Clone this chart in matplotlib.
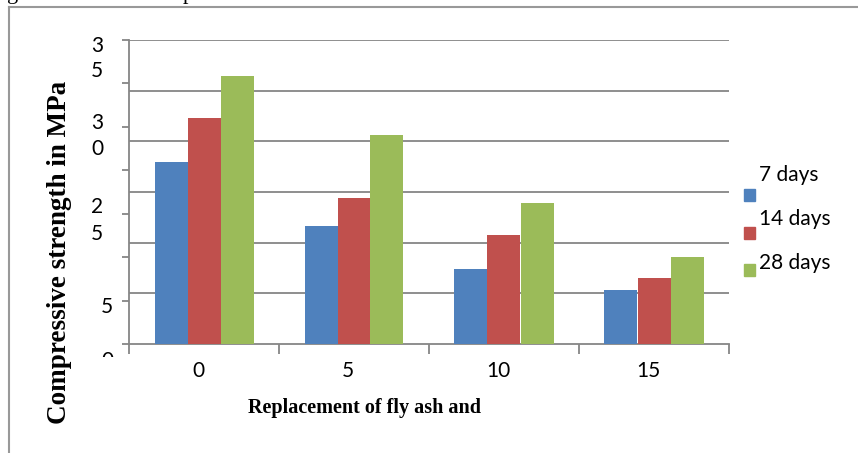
import numpy as np
import matplotlib
matplotlib.use("Agg")
import matplotlib.pyplot as plt
from matplotlib.patches import Rectangle
from matplotlib.transforms import ScaledTranslation, Bbox, TransformedBbox

# data
categories = ['0', '5', '10', '15']
series = ['7 days', '14 days', '28 days']
days7 = [21.0, 13.6, 8.6, 6.2]
days14 = [26.0, 16.8, 12.5, 7.6]
days28 = [30.9, 24.1, 16.2, 10.0]
colors = ['#4F81BD', '#C0504D', '#9BBB59']

# broken y tick labels as they show in the picture (text, pixel y)
ylab_txt = ['3', '5', '3', '0', '2', '5', '5', '0']
ylab_y = [46, 71, 123, 149, 207, 234, 307, 361]
ylab_x = [103, 103, 103, 103, 103, 103, 113, 113]

W, H = 858, 453
def fx(x):
    return x / W
def fy(y):
    return 1 - y / H

fig = plt.figure(figsize=(8.58, 4.53), dpi=100)
ax = fig.add_axes([fx(129), fy(344), (729 - 129) / W, (344 - 40) / H])

gray = '#868686'
x = np.arange(len(categories))
w = 0.22
for k, vals in enumerate([days7, days14, days28]):
    ax.bar(x + (k - 1) * w, vals, w, color=colors[k], zorder=3)

ax.set_ylim(0, 35)
ax.set_xlim(-0.5, 3.5)
for g in np.linspace(0, 35, 7)[1:]:
    ax.axhline(g, color=gray, lw=1.3, zorder=1)

for s in ['top', 'right']:
    ax.spines[s].set_visible(False)
for s in ['left', 'bottom']:
    ax.spines[s].set_color(gray)
    ax.spines[s].set_linewidth(1.3)

ax.set_yticks(np.arange(0, 36, 5))
ax.tick_params(axis='y', direction='out', length=5, color=gray, width=1.3, labelleft=False)
ax.set_xticks(np.arange(-0.5, 4, 1))
ax.set_xticklabels([])
ax.tick_params(axis='x', which='major', direction='out', length=7, color=gray, width=1.3)
ax.set_xticks(x, minor=True)
ax.set_xticklabels(categories, minor=True, fontsize=15, family='Lato')
ax.tick_params(axis='x', which='minor', length=0, pad=12)
for lab in ax.get_xticklabels(minor=True):
    lab.set_transform(lab.get_transform() + ScaledTranslation(-0.06, 0, fig.dpi_scale_trans))

# y tick labels
clip = TransformedBbox(Bbox([[0, fy(357)], [1, 1]]), fig.transFigure)
for t, yy, xx in zip(ylab_txt, ylab_y, ylab_x):
    tt = fig.text(fx(xx), fy(yy), t, ha='right', va='center', fontsize=15, family='Lato')
    tt.set_clip_box(clip)
    tt.set_clip_on(True)

# axis titles
fig.text(fx(60), fy(252), 'Compressive strength in MPa', rotation=90, ha='center', va='center',
         fontsize=19.5, fontweight='bold', family='Liberation Serif')
fig.text(fx(365), fy(408), 'Replacement of fly ash and', ha='center', va='center',
         fontsize=14.5, fontweight='bold', family='Liberation Serif')

# legend
sq_y = [195, 233, 270]
txt_y = [175, 219, 263]
for k in range(3):
    fig.patches.append(Rectangle((fx(744), fy(sq_y[k] + 6)), 11 / W, 12 / H,
                                 transform=fig.transFigure, color=colors[k]))
    fig.text(fx(759), fy(txt_y[k]), series[k], ha='left', va='center', fontsize=15, family='Lato')

# frame of the surrounding figure box
fig.add_artist(plt.Line2D([fx(9), fx(9)], [0, fy(7)], color='#999999', lw=1.5))
fig.add_artist(plt.Line2D([fx(9), 1], [fy(7), fy(7)], color='#999999', lw=1.5))

# cut off caption above
fig.text(fx(7), fy(-1), 'g', ha='left', va='baseline', fontsize=16, family='Liberation Serif')
fig.text(fx(183), fy(-1), 'p', ha='left', va='baseline', fontsize=16, family='Liberation Serif')

fig.savefig('out.png', dpi=100)
